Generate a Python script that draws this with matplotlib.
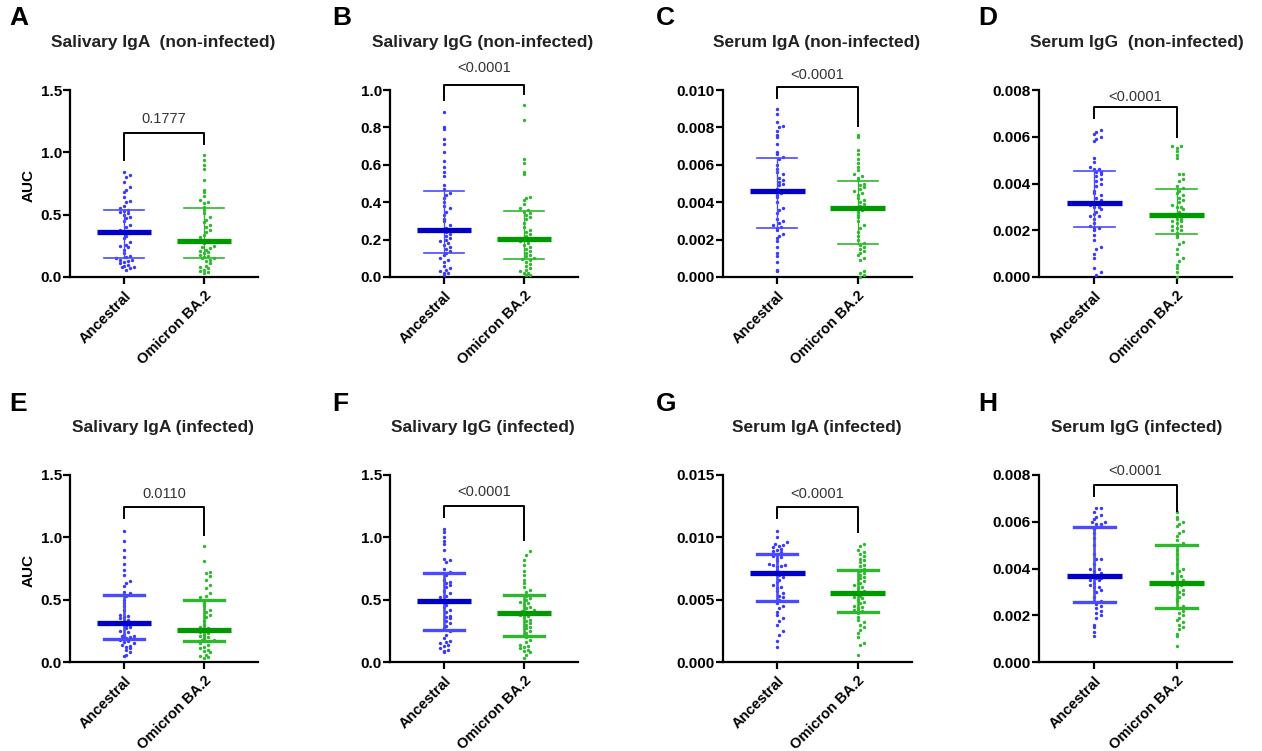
import numpy as np
import matplotlib
matplotlib.use("Agg")
import matplotlib.pyplot as plt

plt.rcParams['font.family'] = ['Liberation Sans', 'DejaVu Sans']

groups = ["Ancestral", "Omicron BA.2"]

# panel titles / letters
letters = ["A", "B", "C", "D", "E", "F", "G", "H"]
titles = ["Salivary IgA  (non-infected)", "Salivary IgG (non-infected)",
          "Serum IgA (non-infected)", "Serum IgG  (non-infected)",
          "Salivary IgA (infected)", "Salivary IgG (infected)",
          "Serum IgA (infected)", "Serum IgG (infected)"]
p_values = ["0.1777", "<0.0001", "<0.0001", "<0.0001",
            "0.0110", "<0.0001", "<0.0001", "<0.0001"]

# y axis ranges and ticks
ymax = [1.5, 1.0, 0.010, 0.008, 1.5, 1.5, 0.015, 0.008]
ystep = [0.5, 0.2, 0.002, 0.002, 0.5, 0.5, 0.005, 0.002]
yfmt = ["%.1f", "%.1f", "%.3f", "%.3f", "%.1f", "%.1f", "%.3f", "%.3f"]

# individual AUC values
anc = [
    [0.06, 0.07, 0.08, 0.08, 0.09, 0.10, 0.11, 0.12, 0.13, 0.14, 0.14, 0.15,
     0.16, 0.17, 0.19, 0.22, 0.24, 0.25, 0.26, 0.28, 0.31, 0.33, 0.35, 0.36,
     0.37, 0.38, 0.40, 0.42, 0.45, 0.47, 0.48, 0.50, 0.51, 0.52, 0.53, 0.54,
     0.55, 0.57, 0.60, 0.61, 0.64, 0.68, 0.70, 0.72, 0.76, 0.80, 0.82, 0.84],
    [0.01, 0.02, 0.02, 0.03, 0.04, 0.05, 0.06, 0.08, 0.09, 0.10, 0.12, 0.13,
     0.14, 0.15, 0.16, 0.17, 0.18, 0.19, 0.20, 0.21, 0.22, 0.23, 0.24, 0.25,
     0.26, 0.28, 0.30, 0.31, 0.33, 0.35, 0.37, 0.38, 0.40, 0.42, 0.44, 0.45,
     0.47, 0.49, 0.54, 0.56, 0.59, 0.62, 0.67, 0.71, 0.74, 0.79, 0.80, 0.88],
    [0.0003, 0.0004, 0.0008, 0.0011, 0.0013, 0.0016, 0.0019, 0.0021, 0.0022, 0.0023, 0.0025, 0.0026,
     0.0027, 0.0028, 0.0029, 0.0030, 0.0031, 0.0034, 0.0036, 0.0037, 0.0040, 0.0043, 0.0044, 0.0045,
     0.0046, 0.0047, 0.0049, 0.0050, 0.0051, 0.0052, 0.0053, 0.0055, 0.0056, 0.0058, 0.0060, 0.0063,
     0.0064, 0.0066, 0.0067, 0.0071, 0.0075, 0.0076, 0.0078, 0.0080, 0.0081, 0.0083, 0.0087, 0.0090],
    [0.0001, 0.0002, 0.0004, 0.0008, 0.0010, 0.0012, 0.0013, 0.0016, 0.0018, 0.0020, 0.0021, 0.0021,
     0.0022, 0.0023, 0.0025, 0.0026, 0.0026, 0.0027, 0.0028, 0.0029, 0.0030, 0.0030, 0.0031, 0.0032,
     0.0033, 0.0034, 0.0035, 0.0036, 0.0037, 0.0039, 0.0040, 0.0041, 0.0042, 0.0043, 0.0044, 0.0045,
     0.0045, 0.0046, 0.0046, 0.0047, 0.0049, 0.0051, 0.0058, 0.0059, 0.0060, 0.0061, 0.0062, 0.0063],
    [0.05, 0.06, 0.08, 0.10, 0.11, 0.12, 0.13, 0.14, 0.15, 0.16, 0.17, 0.18,
     0.19, 0.20, 0.21, 0.21, 0.22, 0.24, 0.25, 0.27, 0.28, 0.29, 0.30, 0.31,
     0.32, 0.33, 0.34, 0.35, 0.36, 0.37, 0.38, 0.42, 0.45, 0.47, 0.50, 0.53,
     0.55, 0.56, 0.61, 0.63, 0.65, 0.70, 0.74, 0.79, 0.84, 0.90, 0.97, 1.05],
    [0.08, 0.09, 0.10, 0.11, 0.13, 0.14, 0.15, 0.16, 0.17, 0.19, 0.22, 0.25,
     0.27, 0.29, 0.31, 0.33, 0.35, 0.36, 0.37, 0.40, 0.42, 0.44, 0.46, 0.48,
     0.49, 0.50, 0.52, 0.53, 0.55, 0.57, 0.60, 0.62, 0.63, 0.64, 0.66, 0.70,
     0.72, 0.75, 0.80, 0.82, 0.83, 0.90, 0.95, 0.97, 1.00, 1.04, 1.07],
    [0.0012, 0.0017, 0.0022, 0.0025, 0.0030, 0.0033, 0.0035, 0.0038, 0.0040, 0.0043, 0.0045, 0.0047,
     0.0050, 0.0052, 0.0053, 0.0055, 0.0057, 0.0059, 0.0060, 0.0062, 0.0064, 0.0066, 0.0068, 0.0070,
     0.0072, 0.0074, 0.0076, 0.0077, 0.0078, 0.0078, 0.0079, 0.0081, 0.0083, 0.0084, 0.0085, 0.0086,
     0.0088, 0.0089, 0.0090, 0.0091, 0.0092, 0.0093, 0.0094, 0.0095, 0.0096, 0.0100, 0.0105],
    [0.0011, 0.0013, 0.0015, 0.0016, 0.0019, 0.0020, 0.0021, 0.0022, 0.0023, 0.0024, 0.0025, 0.0026,
     0.0028, 0.0030, 0.0031, 0.0032, 0.0032, 0.0033, 0.0034, 0.0035, 0.0035, 0.0036, 0.0036, 0.0037,
     0.0038, 0.0039, 0.0040, 0.0040, 0.0042, 0.0044, 0.0044, 0.0046, 0.0050, 0.0053, 0.0055, 0.0057,
     0.0059, 0.0059, 0.0060, 0.0060, 0.0061, 0.0062, 0.0063, 0.0064, 0.0066, 0.0066],
]
omi = [
    [0.03, 0.04, 0.05, 0.06, 0.07, 0.08, 0.09, 0.11, 0.13, 0.14, 0.15, 0.15,
     0.16, 0.17, 0.18, 0.19, 0.20, 0.21, 0.22, 0.23, 0.24, 0.25, 0.27, 0.29,
     0.30, 0.32, 0.34, 0.36, 0.38, 0.40, 0.42, 0.44, 0.46, 0.48, 0.51, 0.54,
     0.56, 0.59, 0.60, 0.62, 0.65, 0.68, 0.70, 0.78, 0.87, 0.90, 0.94, 0.98],
    [0.01, 0.01, 0.02, 0.02, 0.03, 0.04, 0.05, 0.06, 0.07, 0.08, 0.09, 0.095,
     0.10, 0.11, 0.12, 0.13, 0.14, 0.15, 0.16, 0.17, 0.18, 0.19, 0.20, 0.20,
     0.21, 0.22, 0.23, 0.24, 0.25, 0.27, 0.29, 0.31, 0.32, 0.33, 0.34, 0.35,
     0.36, 0.37, 0.39, 0.41, 0.42, 0.43, 0.55, 0.56, 0.61, 0.63, 0.84, 0.92],
    [0.0000, 0.0001, 0.0002, 0.0003, 0.0009, 0.0010, 0.0012, 0.0013, 0.0014, 0.0015, 0.0016, 0.0017,
     0.0018, 0.0020, 0.0022, 0.0024, 0.0026, 0.0028, 0.0030, 0.0032, 0.0033, 0.0035, 0.0036, 0.0037,
     0.0038, 0.0039, 0.0040, 0.0041, 0.0042, 0.0044, 0.0045, 0.0046, 0.0047, 0.0048, 0.0049, 0.0050,
     0.0052, 0.0053, 0.0054, 0.0055, 0.0057, 0.0059, 0.0061, 0.0063, 0.0066, 0.0068, 0.0075, 0.0076],
    [0.0000, 0.0002, 0.0004, 0.0005, 0.0007, 0.0008, 0.0010, 0.0012, 0.0014, 0.0015, 0.0017, 0.0018,
     0.0019, 0.0020, 0.0020, 0.0021, 0.0022, 0.0022, 0.0023, 0.0024, 0.0024, 0.0025, 0.0025, 0.0026,
     0.0027, 0.0028, 0.0029, 0.0030, 0.0030, 0.0031, 0.0032, 0.0033, 0.0034, 0.0035, 0.0036, 0.0037,
     0.0038, 0.0039, 0.0041, 0.0042, 0.0044, 0.0044, 0.0051, 0.0052, 0.0054, 0.0055, 0.0056, 0.0056],
    [0.03, 0.04, 0.05, 0.06, 0.08, 0.09, 0.10, 0.11, 0.12, 0.14, 0.15, 0.17,
     0.17, 0.18, 0.18, 0.19, 0.20, 0.21, 0.22, 0.23, 0.24, 0.25, 0.25, 0.26,
     0.27, 0.28, 0.30, 0.33, 0.36, 0.38, 0.40, 0.42, 0.45, 0.47, 0.49, 0.50,
     0.52, 0.53, 0.55, 0.59, 0.62, 0.66, 0.69, 0.71, 0.72, 0.81, 0.93],
    [0.03, 0.06, 0.08, 0.09, 0.10, 0.11, 0.12, 0.13, 0.14, 0.16, 0.18, 0.20,
     0.21, 0.23, 0.25, 0.27, 0.28, 0.30, 0.31, 0.33, 0.34, 0.36, 0.37, 0.38,
     0.39, 0.40, 0.41, 0.42, 0.43, 0.44, 0.46, 0.47, 0.48, 0.50, 0.51, 0.53,
     0.54, 0.56, 0.58, 0.60, 0.63, 0.66, 0.70, 0.73, 0.78, 0.82, 0.86, 0.89],
    [0.0006, 0.0014, 0.0015, 0.0020, 0.0023, 0.0026, 0.0028, 0.0030, 0.0032, 0.0034, 0.0036, 0.0039,
     0.0041, 0.0042, 0.0043, 0.0044, 0.0045, 0.0047, 0.0048, 0.0050, 0.0051, 0.0052, 0.0053, 0.0055,
     0.0056, 0.0057, 0.0059, 0.0060, 0.0062, 0.0063, 0.0065, 0.0067, 0.0068, 0.0070, 0.0071, 0.0073,
     0.0075, 0.0077, 0.0078, 0.0080, 0.0082, 0.0083, 0.0085, 0.0087, 0.0088, 0.0090, 0.0093, 0.0095],
    [0.0007, 0.0011, 0.0012, 0.0014, 0.0015, 0.0016, 0.0017, 0.0018, 0.0019, 0.0020, 0.0021, 0.0022,
     0.0023, 0.0024, 0.0026, 0.0027, 0.0028, 0.0029, 0.0030, 0.0031, 0.0032, 0.0033, 0.0033, 0.0034,
     0.0035, 0.0036, 0.0037, 0.0037, 0.0038, 0.0039, 0.0040, 0.0042, 0.0044, 0.0046, 0.0048, 0.0050,
     0.0051, 0.0052, 0.0054, 0.0055, 0.0056, 0.0058, 0.0059, 0.0060, 0.0061, 0.0062, 0.0064],
]

# median and interquartile range as drawn
anc_med = [0.36, 0.25, 0.0046, 0.00316, 0.31, 0.49, 0.0071, 0.0037]
anc_q1 = [0.155, 0.13, 0.0026, 0.00215, 0.185, 0.26, 0.0049, 0.00258]
anc_q3 = [0.54, 0.46, 0.00635, 0.00452, 0.54, 0.71, 0.0087, 0.00578]
omi_med = [0.29, 0.205, 0.0037, 0.00264, 0.26, 0.395, 0.0055, 0.0034]
omi_q1 = [0.155, 0.095, 0.00175, 0.00182, 0.17, 0.205, 0.0040, 0.0023]
omi_q3 = [0.55, 0.355, 0.00515, 0.00378, 0.50, 0.535, 0.0074, 0.0050]

# bracket: bar height, left leg end, right leg end, label y
br_top = [1.155, 1.027, 0.01014, 0.00726, 1.241, 1.254, 0.01241, 0.00759]
br_left = [0.94, 0.946, 0.00955, 0.00679, 1.156, 1.16, 0.01156, 0.00712]
br_right = [1.07, 0.98, 0.0081, 0.0060, 1.022, 0.98, 0.01041, 0.00648]
br_text = [1.27, 1.115, 0.0108, 0.0077, 1.35, 1.367, 0.01348, 0.00816]

W, H = 1262, 751
fig = plt.figure(figsize=(W / 100, H / 100), dpi=100)

ax_left = [70, 390, 723, 1039]
ax_width = [188, 188, 189, 193]
row_bottom = [277, 662]
ax_h = 187
title_x = [163, 483, 817, 1137]
title_y = [43, 428]
letter_x = [9, 332, 656, 978]
letter_y = [18, 404]

pt_blue, bar_blue, err_blue = '#3a3aff', '#0000c8', '#4a4aff'
pt_green, bar_green, err_green = '#30b830', '#009a00', '#2fb82f'


def swarm(vals, top, px_h=187.0, bin_px=4.2, dx=0.05):
    # simple beeswarm: dots that fall in the same pixel band sit side by side
    vals = np.sort(np.asarray(vals, dtype=float))
    rows = np.round(vals / top * px_h / bin_px)
    xs = np.zeros(len(vals))
    for r in np.unique(rows):
        idx = np.where(rows == r)[0]
        for k, i in enumerate(idx):
            step = (k + 1) // 2
            sign = 1 if k % 2 else -1
            xs[i] = sign * step * dx
        if len(idx) % 2 == 0:
            xs[idx] += dx / 2
    return xs, vals


for p in range(8):
    row, col = p // 4, p % 4
    ax = fig.add_axes([ax_left[col] / W, (H - row_bottom[row]) / H,
                       ax_width[col] / W, ax_h / H])
    top = ymax[p]
    ax.set_xlim(-0.675, 1.675)
    ax.set_ylim(0, top)

    thick_err = 2.4 if row == 1 else 1.2
    series = [(anc[p], anc_med[p], anc_q1[p], anc_q3[p], pt_blue, bar_blue, err_blue),
              (omi[p], omi_med[p], omi_q1[p], omi_q3[p], pt_green, bar_green, err_green)]
    for g, (vals, med, q1, q3, pc, bc, ec) in enumerate(series):
        xs, vs = swarm(vals, top)
        ax.scatter(g + xs, vs, s=6, color=pc, linewidths=0, zorder=3, clip_on=False)
        ax.plot([g, g], [q1, q3], color=ec, lw=thick_err * 0.8, zorder=4)
        ax.plot([g - 0.25, g + 0.25], [q1, q1], color=ec, lw=thick_err, zorder=4)
        ax.plot([g - 0.25, g + 0.25], [q3, q3], color=ec, lw=thick_err, zorder=4)
        ax.plot([g - 0.34, g + 0.34], [med, med], color=bc, lw=3.8,
                solid_capstyle='butt', zorder=5)

    # significance bracket
    ax.plot([0, 0, 1, 1], [br_left[p], br_top[p], br_top[p], br_right[p]],
            color='black', lw=1.4, clip_on=False, zorder=6)
    ax.text(0.5, br_text[p], p_values[p], ha='center', va='center',
            fontsize=10.5, color='#333333', clip_on=False)

    ax.spines['top'].set_visible(False)
    ax.spines['right'].set_visible(False)
    for s in ['left', 'bottom']:
        ax.spines[s].set_linewidth(1.6)
    ax.tick_params(width=1.6, length=4.8, direction='out')
    ax.tick_params(axis='y', pad=1)
    ticks = np.arange(0, top + ystep[p] / 2, ystep[p])
    ax.set_yticks(ticks)
    ax.set_yticklabels([yfmt[p] % t for t in ticks], fontsize=11, fontweight='bold')
    ax.set_xticks([0, 1])
    ax.set_xticklabels(groups, rotation=45, ha='right', rotation_mode='anchor',
                       fontsize=10.5, fontweight='bold')
    if col == 0:
        ax.set_ylabel("AUC", fontsize=11, fontweight='bold')
        ax.yaxis.set_label_coords(-0.185, 0.49)

    fig.text(title_x[col] / W, 1 - title_y[row] / H, titles[p], ha='center',
             va='center', fontsize=12.5, fontweight='bold', color='#222222')
    fig.text(letter_x[col] / W, 1 - letter_y[row] / H, letters[p], ha='left',
             va='center', fontsize=19, fontweight='bold')

fig.savefig("out.png", dpi=100)
